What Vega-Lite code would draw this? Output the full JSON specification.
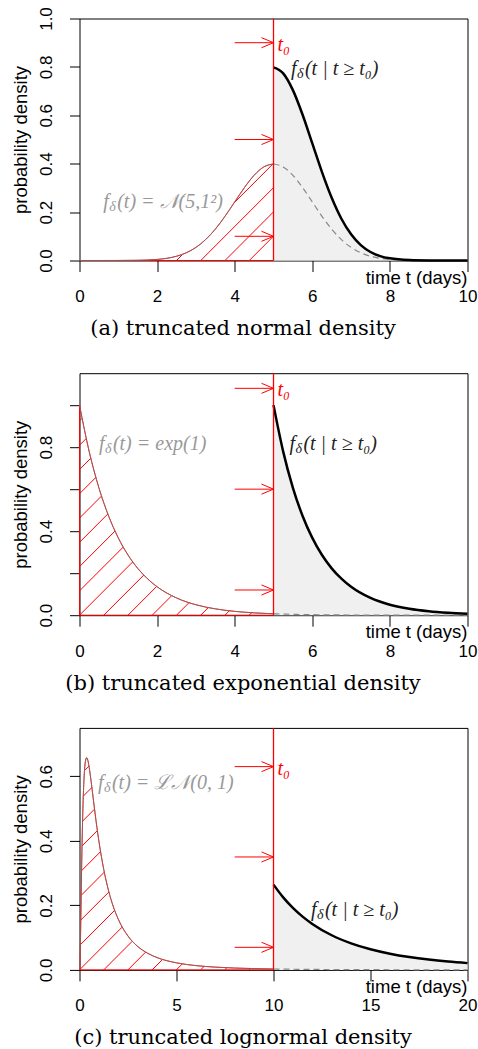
{
  "$schema": "https://vega.github.io/schema/vega-lite/v6.json",
  "autosize": {"type": "pad"},
  "padding": {"left": 10.5, "top": 5.5, "right": 0, "bottom": 0},
  "background": "white",
  "bounds": "flush",
  "spacing": 112.7,
  "config": {
    "view": {"stroke": "black", "strokeWidth": 1},
    "axis": {"grid": false, "domain": false, "tickColor": "black", "tickWidth": 1, "labelFont": "Liberation Sans", "labelFontSize": 17, "labelColor": "black", "titleFontWeight": "normal", "titleColor": "black", "labelOverlap": false, "labelFlush": false},
    "axisX": {"tickSize": 11, "labelBaseline": "alphabetic", "labelPadding": 30, "titleFont": "DejaVu Serif", "titleFontSize": 21, "titleX": 163, "titleY": 74, "titleAlign": "center", "titleBaseline": "alphabetic"},
    "axisY": {"tickSize": 10, "labelAngle": 270, "labelAlign": "center", "labelBaseline": "alphabetic", "labelPadding": 18, "titleFont": "Liberation Sans", "titleFontSize": 18.5, "titleAngle": 270, "titleX": -53, "titleY": 121, "titleAlign": "center", "titleBaseline": "alphabetic"},
    "text": {"font": "Liberation Serif", "fontStyle": "italic", "fontSize": 20, "align": "left", "baseline": "middle"}
  },
  "datasets": {
    "A_left": [
      {"t": 0, "y": 0.0000015}, {"t": 0.5, "y": 0.000016}, {"t": 1, "y": 0.000134}, {"t": 1.5, "y": 0.000873},
      {"t": 2, "y": 0.004432}, {"t": 2.25, "y": 0.009094}, {"t": 2.5, "y": 0.01753}, {"t": 2.75, "y": 0.03174},
      {"t": 3, "y": 0.05399}, {"t": 3.25, "y": 0.08628}, {"t": 3.5, "y": 0.1295}, {"t": 3.75, "y": 0.1826},
      {"t": 4, "y": 0.2420}, {"t": 4.25, "y": 0.3011}, {"t": 4.5, "y": 0.3521}, {"t": 4.75, "y": 0.3867}, {"t": 5, "y": 0.3989}
    ],
    "A_right": [
      {"t": 5, "y": 0.7979, "yd": 0.3989}, {"t": 5.25, "y": 0.7734, "yd": 0.3867}, {"t": 5.5, "y": 0.7041, "yd": 0.3521},
      {"t": 5.75, "y": 0.6023, "yd": 0.3011}, {"t": 6, "y": 0.4839, "yd": 0.2420}, {"t": 6.25, "y": 0.3653, "yd": 0.1826},
      {"t": 6.5, "y": 0.2590, "yd": 0.1295}, {"t": 6.75, "y": 0.1725, "yd": 0.08628}, {"t": 7, "y": 0.1080, "yd": 0.05399},
      {"t": 7.25, "y": 0.06347, "yd": 0.03174}, {"t": 7.5, "y": 0.03506, "yd": 0.01753}, {"t": 7.75, "y": 0.01819, "yd": 0.009094},
      {"t": 8, "y": 0.008864, "yd": 0.004432}, {"t": 8.5, "y": 0.001745, "yd": 0.000873}, {"t": 9, "y": 0.0002677, "yd": 0.000134},
      {"t": 9.5, "y": 0.000032, "yd": 0.000016}, {"t": 10, "y": 0.000003, "yd": 0.0000015}
    ],
    "A_hatch": [
      {"t": 2.5, "y": 0, "t2": 2.66, "y2": 0.0256},
      {"t": 3.986, "y": 0.2384, "t2": 4.985, "y2": 0.3988},
      {"t": 3.125, "y": 0, "t2": 5, "y2": 0.301},
      {"t": 3.75, "y": 0, "t2": 5, "y2": 0.2008},
      {"t": 4.375, "y": 0, "t2": 5, "y2": 0.1004}
    ],
    "A_edges": [{"t": 0, "y": 0, "t2": 5, "y2": 0}],
    "A_t0": [{"t": 5}],
    "A_arrows": [{"t": 4, "t2": 5, "y": 0.9}, {"t": 4, "t2": 5, "y": 0.5}, {"t": 4, "t2": 5, "y": 0.1}],
    "B_left": [
      {"t": 0, "y": 1}, {"t": 0.25, "y": 0.7788}, {"t": 0.5, "y": 0.6065}, {"t": 0.75, "y": 0.4724}, {"t": 1, "y": 0.3679},
      {"t": 1.25, "y": 0.2865}, {"t": 1.5, "y": 0.2231}, {"t": 1.75, "y": 0.1738}, {"t": 2, "y": 0.1353}, {"t": 2.5, "y": 0.0821},
      {"t": 3, "y": 0.0498}, {"t": 3.5, "y": 0.0302}, {"t": 4, "y": 0.0183}, {"t": 4.5, "y": 0.0111}, {"t": 5, "y": 0.00674}
    ],
    "B_right": [
      {"t": 5, "y": 1, "yd": 0.00674}, {"t": 5.25, "y": 0.7788, "yd": 0.00525}, {"t": 5.5, "y": 0.6065, "yd": 0.00409},
      {"t": 5.75, "y": 0.4724, "yd": 0.00318}, {"t": 6, "y": 0.3679, "yd": 0.00248}, {"t": 6.25, "y": 0.2865, "yd": 0.00193},
      {"t": 6.5, "y": 0.2231, "yd": 0.0015}, {"t": 6.75, "y": 0.1738, "yd": 0.00117}, {"t": 7, "y": 0.1353, "yd": 0.00091},
      {"t": 7.5, "y": 0.0821, "yd": 0.00055}, {"t": 8, "y": 0.0498, "yd": 0.00034}, {"t": 8.5, "y": 0.0302, "yd": 0.0002},
      {"t": 9, "y": 0.0183, "yd": 0.00012}, {"t": 9.5, "y": 0.0111, "yd": 0.000075}, {"t": 10, "y": 0.00674, "yd": 0.000045}
    ],
    "B_hatch": [
      {"t": 0, "y": 0.9248, "t2": 0.0649, "y2": 0.9368},
      {"t": 0, "y": 0.8090, "t2": 0.1725, "y2": 0.8410},
      {"t": 0, "y": 0.6933, "t2": 0.291, "y2": 0.7471},
      {"t": 0, "y": 0.5779, "t2": 0.4215, "y2": 0.6557},
      {"t": 0, "y": 0.4623, "t2": 0.5664, "y2": 0.5671},
      {"t": 0, "y": 0.3467, "t2": 0.730, "y2": 0.4819},
      {"t": 0, "y": 0.2311, "t2": 0.9153, "y2": 0.4005},
      {"t": 0, "y": 0.1156, "t2": 1.1264, "y2": 0.3240},
      {"t": 0, "y": 0, "t2": 1.3723, "y2": 0.2538},
      {"t": 0.6249, "y": 0, "t2": 1.6555, "y2": 0.1905},
      {"t": 1.2497, "y": 0, "t2": 1.9876, "y2": 0.1365},
      {"t": 1.8746, "y": 0, "t2": 2.3751, "y2": 0.0926},
      {"t": 2.4995, "y": 0, "t2": 2.8218, "y2": 0.0595},
      {"t": 3.1244, "y": 0, "t2": 3.3188, "y2": 0.036},
      {"t": 3.7493, "y": 0, "t2": 3.862, "y2": 0.021},
      {"t": 4.3741, "y": 0, "t2": 4.4382, "y2": 0.0119}
    ],
    "B_edges": [{"t": 0, "y": 0, "t2": 5, "y2": 0}, {"t": 0, "y": 0, "t2": 0, "y2": 1}],
    "B_t0": [{"t": 5}],
    "B_arrows": [{"t": 4, "t2": 5, "y": 1.08}, {"t": 4, "t2": 5, "y": 0.6}, {"t": 4, "t2": 5, "y": 0.12}],
    "C_left": [
      {"t": 0, "y": 0}, {"t": 0.02, "y": 0.0095}, {"t": 0.05, "y": 0.0898}, {"t": 0.075, "y": 0.1857}, {"t": 0.1, "y": 0.2815},
      {"t": 0.125, "y": 0.3673}, {"t": 0.15, "y": 0.4400}, {"t": 0.175, "y": 0.4991}, {"t": 0.2, "y": 0.5463}, {"t": 0.25, "y": 0.6105},
      {"t": 0.3, "y": 0.6442}, {"t": 0.37, "y": 0.6577}, {"t": 0.45, "y": 0.6446}, {"t": 0.5, "y": 0.6276}, {"t": 0.6, "y": 0.5836},
      {"t": 0.7, "y": 0.5349}, {"t": 0.8, "y": 0.4864}, {"t": 0.9, "y": 0.4408}, {"t": 1, "y": 0.3989}, {"t": 1.25, "y": 0.3113},
      {"t": 1.5, "y": 0.2450}, {"t": 1.75, "y": 0.1949}, {"t": 2, "y": 0.1569}, {"t": 2.5, "y": 0.1049}, {"t": 3, "y": 0.0727},
      {"t": 3.5, "y": 0.0520}, {"t": 4, "y": 0.0381}, {"t": 5, "y": 0.0219}, {"t": 6, "y": 0.0133}, {"t": 7, "y": 0.0086},
      {"t": 8, "y": 0.0057}, {"t": 9, "y": 0.0040}, {"t": 10, "y": 0.0028}
    ],
    "C_right": [
      {"t": 10, "y": 0.2643, "yd": 0.0028}, {"t": 10.5, "y": 0.2248, "yd": 0.0024}, {"t": 11, "y": 0.1922, "yd": 0.0020},
      {"t": 11.5, "y": 0.1650, "yd": 0.0018}, {"t": 12, "y": 0.1424, "yd": 0.0015}, {"t": 13, "y": 0.1074, "yd": 0.0011},
      {"t": 14, "y": 0.0823, "yd": 0.0009}, {"t": 15, "y": 0.0638, "yd": 0.0007}, {"t": 16, "y": 0.0501, "yd": 0.0005},
      {"t": 17, "y": 0.0398, "yd": 0.0004}, {"t": 18, "y": 0.0319, "yd": 0.0003}, {"t": 19, "y": 0.0258, "yd": 0.0003},
      {"t": 20, "y": 0.0210, "yd": 0.0002}
    ],
    "C_hatch": [
      {"t": 0.047, "y": 0.0781, "t2": 1.815, "y2": 0.1848},
      {"t": 0.067, "y": 0.1545, "t2": 1.515, "y2": 0.2415},
      {"t": 0.0865, "y": 0.231, "t2": 1.28, "y2": 0.303},
      {"t": 0.1072, "y": 0.3075, "t2": 1.085, "y2": 0.3665},
      {"t": 0.1305, "y": 0.3842, "t2": 0.92, "y2": 0.4318},
      {"t": 0.158, "y": 0.461, "t2": 0.775, "y2": 0.4983},
      {"t": 0.196, "y": 0.5386, "t2": 0.638, "y2": 0.5653},
      {"t": 0.258, "y": 0.6177, "t2": 0.49, "y2": 0.6316},
      {"t": 0, "y": 0, "t2": 2.2, "y2": 0.1327},
      {"t": 1.248, "y": 0, "t2": 2.72, "y2": 0.0888},
      {"t": 2.4956, "y": 0, "t2": 3.41, "y2": 0.0552},
      {"t": 3.7434, "y": 0, "t2": 4.28, "y2": 0.0324},
      {"t": 4.9913, "y": 0, "t2": 5.3, "y2": 0.0187},
      {"t": 6.239, "y": 0, "t2": 6.425, "y2": 0.0109},
      {"t": 7.487, "y": 0, "t2": 7.6, "y2": 0.0068},
      {"t": 8.735, "y": 0, "t2": 8.81, "y2": 0.0043}
    ],
    "C_edges": [{"t": 0, "y": 0, "t2": 10, "y2": 0}],
    "C_t0": [{"t": 10}],
    "C_arrows": [{"t": 8, "t2": 10, "y": 0.63}, {"t": 8, "t2": 10, "y": 0.35}, {"t": 8, "t2": 10, "y": 0.07}]
  },
  "vconcat": [
    {
      "width": 388, "height": 242,
      "layer": [
        {"data": {"name": "A_right"}, "mark": {"type": "area", "color": "#f0f0f0", "interpolate": "monotone"},
         "encoding": {
           "x": {"field": "t", "type": "quantitative", "scale": {"domain": [0, 10], "nice": false, "zero": false},
                 "axis": {"title": "(a) truncated normal density", "values": [0, 2, 4, 6, 8, 10], "format": "d"}},
           "y": {"field": "y", "type": "quantitative", "scale": {"domain": [0, 1], "nice": false},
                 "axis": {"title": "probability density", "values": [0, 0.2, 0.4, 0.6, 0.8, 1], "format": ".1f"}}}},
        {"data": {"name": "A_hatch"}, "mark": {"type": "rule", "color": "red", "strokeWidth": 1},
         "encoding": {"x": {"field": "t", "type": "quantitative"}, "y": {"field": "y", "type": "quantitative"}, "x2": {"field": "t2"}, "y2": {"field": "y2"}}},
        {"data": {"name": "A_edges"}, "mark": {"type": "rule", "color": "red", "strokeWidth": 1},
         "encoding": {"x": {"field": "t", "type": "quantitative"}, "y": {"field": "y", "type": "quantitative"}, "x2": {"field": "t2"}, "y2": {"field": "y2"}}},
        {"data": {"name": "A_left"}, "mark": {"type": "line", "color": "red", "strokeWidth": 1, "interpolate": "monotone"},
         "encoding": {"x": {"field": "t", "type": "quantitative"}, "y": {"field": "y", "type": "quantitative"}}},
        {"data": {"name": "A_left"}, "mark": {"type": "line", "color": "#777777", "strokeWidth": 1, "opacity": 0.7, "interpolate": "monotone"},
         "encoding": {"x": {"field": "t", "type": "quantitative"}, "y": {"field": "y", "type": "quantitative"}}},
        {"data": {"name": "A_right"}, "mark": {"type": "line", "color": "#888888", "strokeWidth": 1.2, "strokeDash": [6, 4], "interpolate": "monotone"},
         "encoding": {"x": {"field": "t", "type": "quantitative"}, "y": {"field": "yd", "type": "quantitative"}}},
        {"data": {"name": "A_right"}, "mark": {"type": "line", "color": "black", "strokeWidth": 2.5, "interpolate": "monotone"},
         "encoding": {"x": {"field": "t", "type": "quantitative"}, "y": {"field": "y", "type": "quantitative"}}},
        {"data": {"name": "A_t0"}, "mark": {"type": "rule", "color": "red", "strokeWidth": 1.3},
         "encoding": {"x": {"field": "t", "type": "quantitative"}}},
        {"data": {"name": "A_arrows"}, "mark": {"type": "rule", "color": "red", "strokeWidth": 1},
         "encoding": {"x": {"field": "t", "type": "quantitative"}, "x2": {"field": "t2"}, "y": {"field": "y", "type": "quantitative"}}},
        {"data": {"name": "A_arrows"}, "mark": {"type": "point", "shape": "M -1 -0.42 L 0 0 L -1 0.42", "filled": false, "color": "red", "size": 576, "strokeWidth": 1, "opacity": 1},
         "encoding": {"x": {"field": "t2", "type": "quantitative"}, "y": {"field": "y", "type": "quantitative"}}},
        {"data": {"values": [{"t": 5, "y": 0.9, "label": "t₀"}]}, "mark": {"type": "text", "dx": 4, "dy": 2, "color": "red"},
         "encoding": {"x": {"field": "t", "type": "quantitative"}, "y": {"field": "y", "type": "quantitative"}, "text": {"field": "label"}}},
        {"data": {"values": [{"t": 5.45, "y": 0.79, "label": "f"}]}, "mark": {"type": "text", "color": "#222222"},
         "encoding": {"x": {"field": "t", "type": "quantitative"}, "y": {"field": "y", "type": "quantitative"}, "text": {"field": "label"}}},
        {"data": {"values": [{"t": 5.45, "y": 0.79, "label": "δ"}]}, "mark": {"type": "text", "dx": 6, "dy": 5, "fontSize": 14, "color": "#222222"},
         "encoding": {"x": {"field": "t", "type": "quantitative"}, "y": {"field": "y", "type": "quantitative"}, "text": {"field": "label"}}},
        {"data": {"values": [{"t": 5.45, "y": 0.79, "label": "(t | t  ≥  t₀)"}]}, "mark": {"type": "text", "dx": 14, "color": "#222222"},
         "encoding": {"x": {"field": "t", "type": "quantitative"}, "y": {"field": "y", "type": "quantitative"}, "text": {"field": "label"}}},
        {"data": {"values": [{"t": 0.61, "y": 0.242, "label": "f"}]}, "mark": {"type": "text", "color": "#999999"},
         "encoding": {"x": {"field": "t", "type": "quantitative"}, "y": {"field": "y", "type": "quantitative"}, "text": {"field": "label"}}},
        {"data": {"values": [{"t": 0.61, "y": 0.242, "label": "δ"}]}, "mark": {"type": "text", "dx": 6, "dy": 5, "fontSize": 14, "color": "#999999"},
         "encoding": {"x": {"field": "t", "type": "quantitative"}, "y": {"field": "y", "type": "quantitative"}, "text": {"field": "label"}}},
        {"data": {"values": [{"t": 0.61, "y": 0.242, "label": "(t)  =  𝒩(5,1²)"}]}, "mark": {"type": "text", "dx": 14, "color": "#999999"},
         "encoding": {"x": {"field": "t", "type": "quantitative"}, "y": {"field": "y", "type": "quantitative"}, "text": {"field": "label"}}},
        {"data": {"values": [{"t": 10, "y": 0, "label": "time t (days)"}]}, "mark": {"type": "text", "align": "right", "baseline": "alphabetic", "dy": 23, "font": "Liberation Sans", "fontStyle": "normal", "fontSize": 18.5, "color": "black"},
         "encoding": {"x": {"field": "t", "type": "quantitative"}, "y": {"field": "y", "type": "quantitative"}, "text": {"field": "label"}}}
      ]
    },
    {
      "width": 388, "height": 242,
      "layer": [
        {"data": {"name": "B_right"}, "mark": {"type": "area", "color": "#f0f0f0", "interpolate": "monotone"},
         "encoding": {
           "x": {"field": "t", "type": "quantitative", "scale": {"domain": [0, 10], "nice": false, "zero": false},
                 "axis": {"title": "(b) truncated exponential density", "values": [0, 2, 4, 6, 8, 10], "format": "d"}},
           "y": {"field": "y", "type": "quantitative", "scale": {"domain": [0, 1.152], "nice": false},
                 "axis": {"title": "probability density", "values": [0, 0.2, 0.4, 0.6, 0.8, 1], "labelExpr": "(round(datum.value*10) % 4 == 0) ? format(datum.value, '.1f') : ''"}}}},
        {"data": {"name": "B_hatch"}, "mark": {"type": "rule", "color": "red", "strokeWidth": 1},
         "encoding": {"x": {"field": "t", "type": "quantitative"}, "y": {"field": "y", "type": "quantitative"}, "x2": {"field": "t2"}, "y2": {"field": "y2"}}},
        {"data": {"name": "B_edges"}, "mark": {"type": "rule", "color": "red", "strokeWidth": 1},
         "encoding": {"x": {"field": "t", "type": "quantitative"}, "y": {"field": "y", "type": "quantitative"}, "x2": {"field": "t2"}, "y2": {"field": "y2"}}},
        {"data": {"name": "B_left"}, "mark": {"type": "line", "color": "red", "strokeWidth": 1, "interpolate": "monotone"},
         "encoding": {"x": {"field": "t", "type": "quantitative"}, "y": {"field": "y", "type": "quantitative"}}},
        {"data": {"name": "B_left"}, "mark": {"type": "line", "color": "#777777", "strokeWidth": 1, "opacity": 0.7, "interpolate": "monotone"},
         "encoding": {"x": {"field": "t", "type": "quantitative"}, "y": {"field": "y", "type": "quantitative"}}},
        {"data": {"name": "B_right"}, "mark": {"type": "line", "color": "#888888", "strokeWidth": 1.2, "strokeDash": [6, 4], "interpolate": "monotone"},
         "encoding": {"x": {"field": "t", "type": "quantitative"}, "y": {"field": "yd", "type": "quantitative"}}},
        {"data": {"name": "B_right"}, "mark": {"type": "line", "color": "black", "strokeWidth": 2.5, "interpolate": "monotone"},
         "encoding": {"x": {"field": "t", "type": "quantitative"}, "y": {"field": "y", "type": "quantitative"}}},
        {"data": {"name": "B_t0"}, "mark": {"type": "rule", "color": "red", "strokeWidth": 1.3},
         "encoding": {"x": {"field": "t", "type": "quantitative"}}},
        {"data": {"name": "B_arrows"}, "mark": {"type": "rule", "color": "red", "strokeWidth": 1},
         "encoding": {"x": {"field": "t", "type": "quantitative"}, "x2": {"field": "t2"}, "y": {"field": "y", "type": "quantitative"}}},
        {"data": {"name": "B_arrows"}, "mark": {"type": "point", "shape": "M -1 -0.42 L 0 0 L -1 0.42", "filled": false, "color": "red", "size": 576, "strokeWidth": 1, "opacity": 1},
         "encoding": {"x": {"field": "t2", "type": "quantitative"}, "y": {"field": "y", "type": "quantitative"}}},
        {"data": {"values": [{"t": 5, "y": 1.08, "label": "t₀"}]}, "mark": {"type": "text", "dx": 4, "dy": 2, "color": "red"},
         "encoding": {"x": {"field": "t", "type": "quantitative"}, "y": {"field": "y", "type": "quantitative"}, "text": {"field": "label"}}},
        {"data": {"values": [{"t": 5.41, "y": 0.814, "label": "f"}]}, "mark": {"type": "text", "color": "#222222"},
         "encoding": {"x": {"field": "t", "type": "quantitative"}, "y": {"field": "y", "type": "quantitative"}, "text": {"field": "label"}}},
        {"data": {"values": [{"t": 5.41, "y": 0.814, "label": "δ"}]}, "mark": {"type": "text", "dx": 6, "dy": 5, "fontSize": 14, "color": "#222222"},
         "encoding": {"x": {"field": "t", "type": "quantitative"}, "y": {"field": "y", "type": "quantitative"}, "text": {"field": "label"}}},
        {"data": {"values": [{"t": 5.41, "y": 0.814, "label": "(t | t  ≥  t₀)"}]}, "mark": {"type": "text", "dx": 14, "color": "#222222"},
         "encoding": {"x": {"field": "t", "type": "quantitative"}, "y": {"field": "y", "type": "quantitative"}, "text": {"field": "label"}}},
        {"data": {"values": [{"t": 0.5, "y": 0.814, "label": "f"}]}, "mark": {"type": "text", "color": "#999999"},
         "encoding": {"x": {"field": "t", "type": "quantitative"}, "y": {"field": "y", "type": "quantitative"}, "text": {"field": "label"}}},
        {"data": {"values": [{"t": 0.5, "y": 0.814, "label": "δ"}]}, "mark": {"type": "text", "dx": 6, "dy": 5, "fontSize": 14, "color": "#999999"},
         "encoding": {"x": {"field": "t", "type": "quantitative"}, "y": {"field": "y", "type": "quantitative"}, "text": {"field": "label"}}},
        {"data": {"values": [{"t": 0.5, "y": 0.814, "label": "(t)  =  exp(1)"}]}, "mark": {"type": "text", "dx": 14, "color": "#999999"},
         "encoding": {"x": {"field": "t", "type": "quantitative"}, "y": {"field": "y", "type": "quantitative"}, "text": {"field": "label"}}},
        {"data": {"values": [{"t": 10, "y": 0, "label": "time t (days)"}]}, "mark": {"type": "text", "align": "right", "baseline": "alphabetic", "dy": 23, "font": "Liberation Sans", "fontStyle": "normal", "fontSize": 18.5, "color": "black"},
         "encoding": {"x": {"field": "t", "type": "quantitative"}, "y": {"field": "y", "type": "quantitative"}, "text": {"field": "label"}}}
      ]
    },
    {
      "width": 388, "height": 242,
      "layer": [
        {"data": {"name": "C_right"}, "mark": {"type": "area", "color": "#f0f0f0", "interpolate": "monotone"},
         "encoding": {
           "x": {"field": "t", "type": "quantitative", "scale": {"domain": [0, 20], "nice": false, "zero": false},
                 "axis": {"title": "(c) truncated lognormal density", "values": [0, 5, 10, 15, 20], "format": "d"}},
           "y": {"field": "y", "type": "quantitative", "scale": {"domain": [0, 0.75], "nice": false},
                 "axis": {"title": "probability density", "values": [0, 0.1, 0.2, 0.3, 0.4, 0.5, 0.6, 0.7], "labelExpr": "(round(datum.value*10) % 2 == 0) ? format(datum.value, '.1f') : ''"}}}},
        {"data": {"name": "C_hatch"}, "mark": {"type": "rule", "color": "red", "strokeWidth": 1},
         "encoding": {"x": {"field": "t", "type": "quantitative"}, "y": {"field": "y", "type": "quantitative"}, "x2": {"field": "t2"}, "y2": {"field": "y2"}}},
        {"data": {"name": "C_edges"}, "mark": {"type": "rule", "color": "red", "strokeWidth": 1},
         "encoding": {"x": {"field": "t", "type": "quantitative"}, "y": {"field": "y", "type": "quantitative"}, "x2": {"field": "t2"}, "y2": {"field": "y2"}}},
        {"data": {"name": "C_left"}, "mark": {"type": "line", "color": "red", "strokeWidth": 1, "interpolate": "monotone"},
         "encoding": {"x": {"field": "t", "type": "quantitative"}, "y": {"field": "y", "type": "quantitative"}}},
        {"data": {"name": "C_left"}, "mark": {"type": "line", "color": "#777777", "strokeWidth": 1, "opacity": 0.7, "interpolate": "monotone"},
         "encoding": {"x": {"field": "t", "type": "quantitative"}, "y": {"field": "y", "type": "quantitative"}}},
        {"data": {"name": "C_right"}, "mark": {"type": "line", "color": "#888888", "strokeWidth": 1.2, "strokeDash": [6, 4], "interpolate": "monotone"},
         "encoding": {"x": {"field": "t", "type": "quantitative"}, "y": {"field": "yd", "type": "quantitative"}}},
        {"data": {"name": "C_right"}, "mark": {"type": "line", "color": "black", "strokeWidth": 2.5, "interpolate": "monotone"},
         "encoding": {"x": {"field": "t", "type": "quantitative"}, "y": {"field": "y", "type": "quantitative"}}},
        {"data": {"name": "C_t0"}, "mark": {"type": "rule", "color": "red", "strokeWidth": 1.3},
         "encoding": {"x": {"field": "t", "type": "quantitative"}}},
        {"data": {"name": "C_arrows"}, "mark": {"type": "rule", "color": "red", "strokeWidth": 1},
         "encoding": {"x": {"field": "t", "type": "quantitative"}, "x2": {"field": "t2"}, "y": {"field": "y", "type": "quantitative"}}},
        {"data": {"name": "C_arrows"}, "mark": {"type": "point", "shape": "M -1 -0.42 L 0 0 L -1 0.42", "filled": false, "color": "red", "size": 576, "strokeWidth": 1, "opacity": 1},
         "encoding": {"x": {"field": "t2", "type": "quantitative"}, "y": {"field": "y", "type": "quantitative"}}},
        {"data": {"values": [{"t": 10, "y": 0.63, "label": "t₀"}]}, "mark": {"type": "text", "dx": 4, "dy": 2, "color": "red"},
         "encoding": {"x": {"field": "t", "type": "quantitative"}, "y": {"field": "y", "type": "quantitative"}, "text": {"field": "label"}}},
        {"data": {"values": [{"t": 11.93, "y": 0.187, "label": "f"}]}, "mark": {"type": "text", "color": "#222222"},
         "encoding": {"x": {"field": "t", "type": "quantitative"}, "y": {"field": "y", "type": "quantitative"}, "text": {"field": "label"}}},
        {"data": {"values": [{"t": 11.93, "y": 0.187, "label": "δ"}]}, "mark": {"type": "text", "dx": 6, "dy": 5, "fontSize": 14, "color": "#222222"},
         "encoding": {"x": {"field": "t", "type": "quantitative"}, "y": {"field": "y", "type": "quantitative"}, "text": {"field": "label"}}},
        {"data": {"values": [{"t": 11.93, "y": 0.187, "label": "(t | t  ≥  t₀)"}]}, "mark": {"type": "text", "dx": 14, "color": "#222222"},
         "encoding": {"x": {"field": "t", "type": "quantitative"}, "y": {"field": "y", "type": "quantitative"}, "text": {"field": "label"}}},
        {"data": {"values": [{"t": 0.95, "y": 0.579, "label": "f"}]}, "mark": {"type": "text", "color": "#999999"},
         "encoding": {"x": {"field": "t", "type": "quantitative"}, "y": {"field": "y", "type": "quantitative"}, "text": {"field": "label"}}},
        {"data": {"values": [{"t": 0.95, "y": 0.579, "label": "δ"}]}, "mark": {"type": "text", "dx": 6, "dy": 5, "fontSize": 14, "color": "#999999"},
         "encoding": {"x": {"field": "t", "type": "quantitative"}, "y": {"field": "y", "type": "quantitative"}, "text": {"field": "label"}}},
        {"data": {"values": [{"t": 0.95, "y": 0.579, "label": "(t) = ℒ𝒩(0, 1)"}]}, "mark": {"type": "text", "dx": 14, "color": "#999999"},
         "encoding": {"x": {"field": "t", "type": "quantitative"}, "y": {"field": "y", "type": "quantitative"}, "text": {"field": "label"}}},
        {"data": {"values": [{"t": 20, "y": 0, "label": "time t (days)"}]}, "mark": {"type": "text", "align": "right", "baseline": "alphabetic", "dy": 23, "font": "Liberation Sans", "fontStyle": "normal", "fontSize": 18.5, "color": "black"},
         "encoding": {"x": {"field": "t", "type": "quantitative"}, "y": {"field": "y", "type": "quantitative"}, "text": {"field": "label"}}}
      ]
    }
  ]
}
